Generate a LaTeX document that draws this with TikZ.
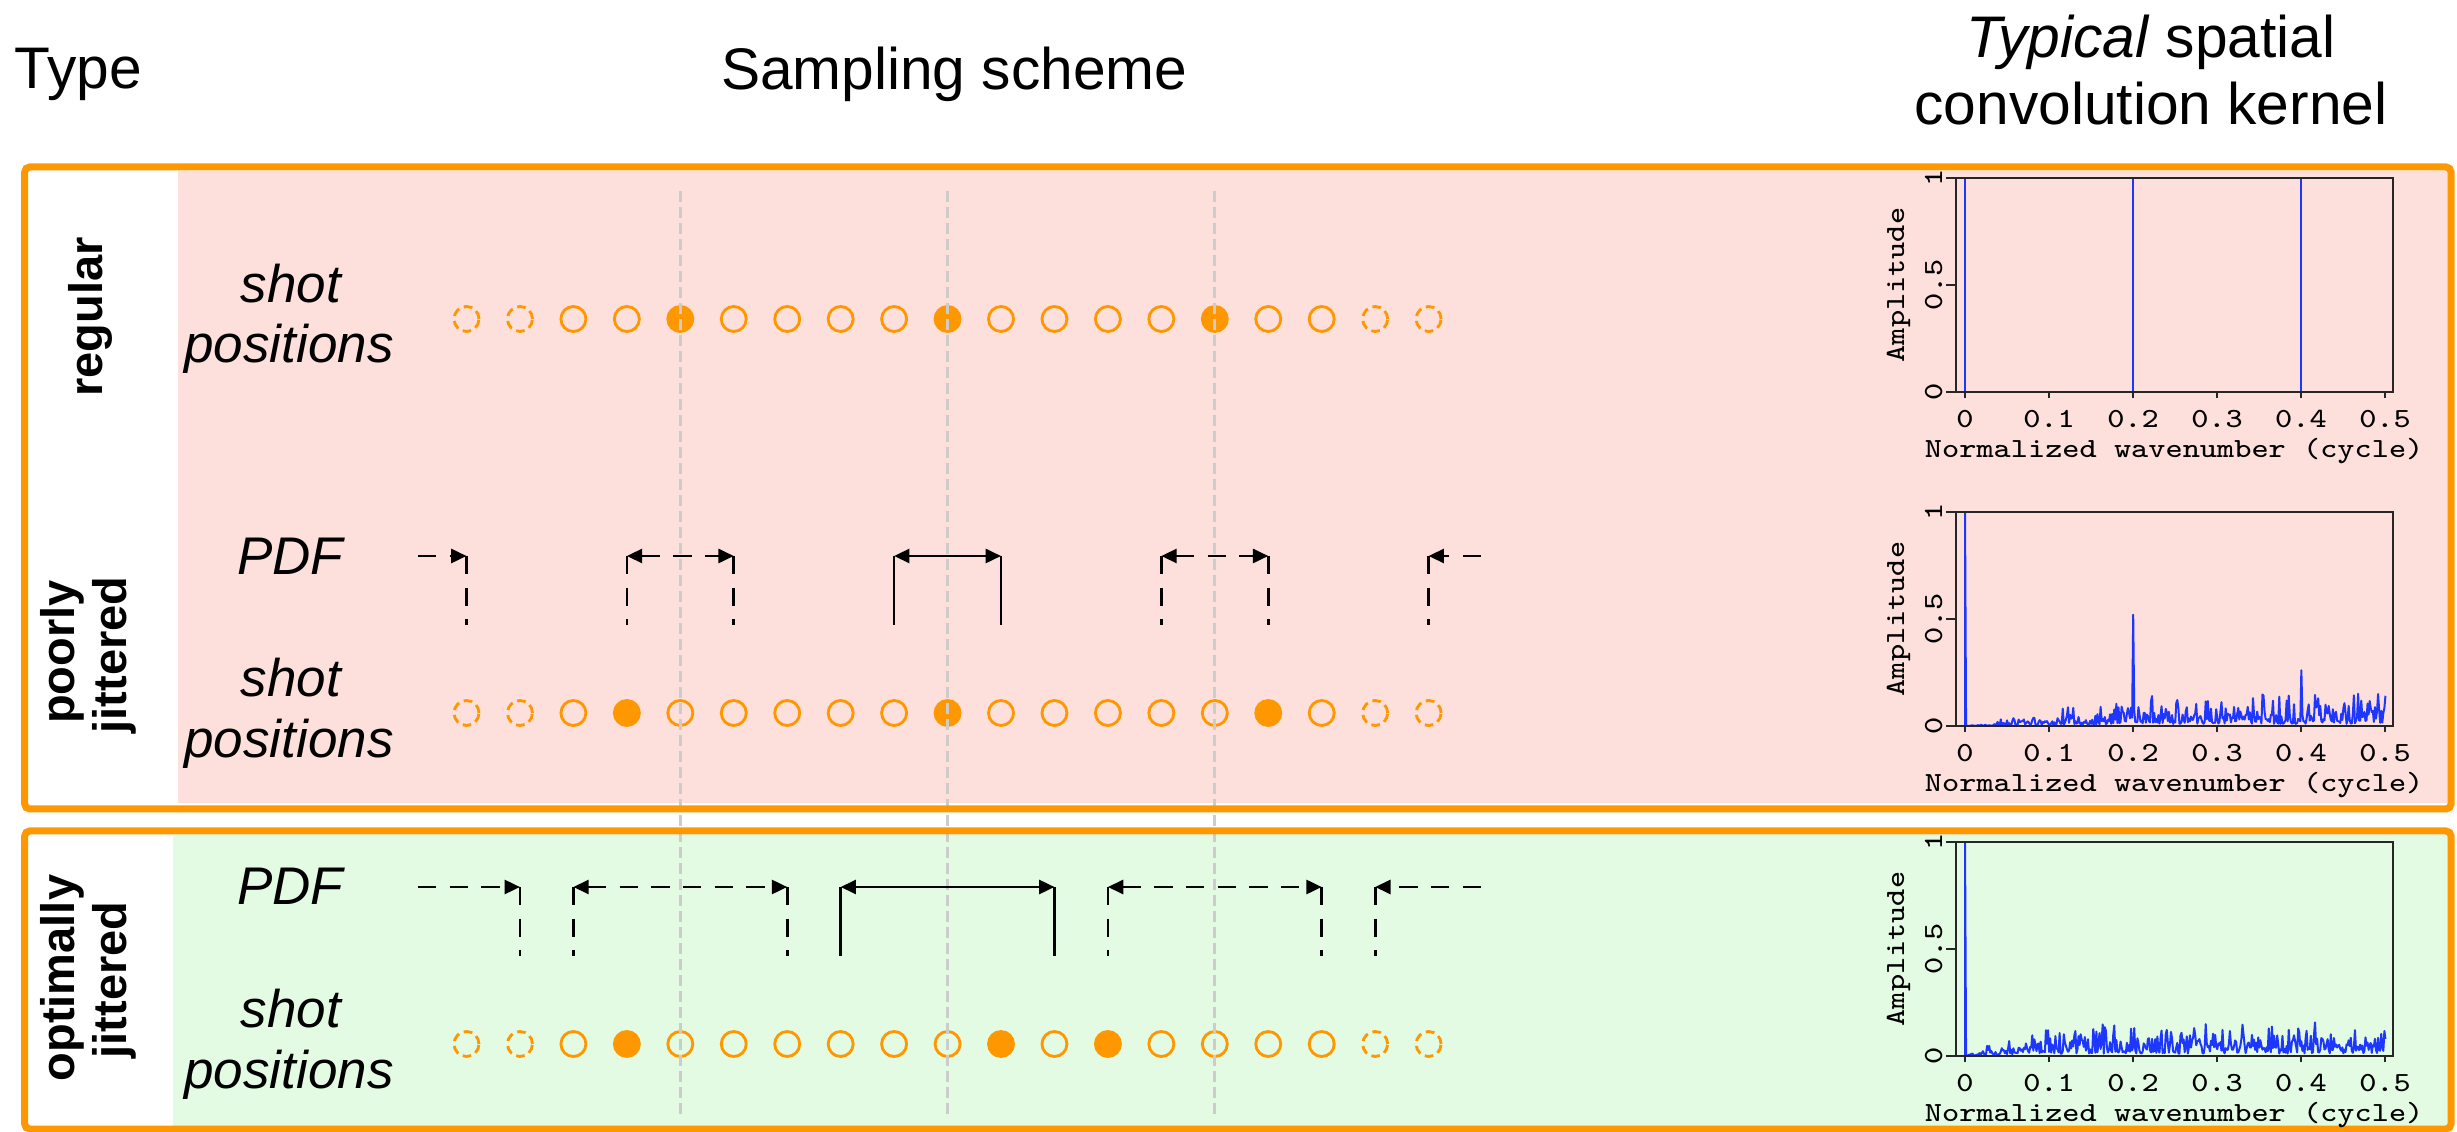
\documentclass[tikz,border=0pt]{standalone}
\usepackage{fontspec}
\setmainfont{Liberation Sans}
\usepackage{graphicx}
\usetikzlibrary{arrows.meta}
\definecolor{orng}{RGB}{255,152,0}
\definecolor{pinkbg}{RGB}{253,223,219}
\definecolor{greenbg}{RGB}{227,250,227}
\definecolor{gridgray}{RGB}{204,204,204}
\definecolor{kblue}{RGB}{30,55,255}
\newcommand\plt[1]{\scalebox{1.17}[1]{#1}}
\newcommand\kernelaxes[1]{%
  \draw[axline] (-0.0107,0) rectangle (0.5095,1);
  \foreach \tv [count=\c] in {0,0.1,0.2,0.3,0.4,0.5}{
    \draw[axline] (\tv,0) -- (\tv,-0.028);
    \node[ticklab,anchor=base] (#1x\c) at (\tv,-0.1636) {\plt{\tv}};
  }
  \foreach \tv [count=\c] in {0,0.5,1}{
    \draw[axline] (-0.0107,\tv) -- (-0.0226,\tv);
    \node[ticklab,rotate=90,anchor=base] (#1y\c) at (-0.0274,\tv) {\plt{\tv}};
  }
  \node[ticklab,rotate=90,anchor=base] (#1yl) at (-0.0726,0.5) {\plt{Amplitude}};
  \node[ticklab,anchor=base] (#1xl) at (0.249,-0.308) {\plt{Normalized wavenumber (cycle)}};
}
\begin{document}
\begin{tikzpicture}[x=0.3pt,y=-0.3pt,
  every node/.style={inner sep=0pt,outer sep=0pt},
  hdr/.style={font=\fontsize{17.6}{21}\selectfont},
  rowlab/.style={font=\fontsize{15.9}{19}\selectfont\itshape,anchor=base},
  typelab/.style={font=\fontsize{14.1}{17}\selectfont\bfseries,rotate=90,anchor=base},
  shotc/.style={circle,draw=orng,line width=0.85pt,minimum size=7.5pt},
  opn/.style={shotc},
  dsh/.style={shotc,dash pattern=on 2.6pt off 1.5pt},
  fil/.style={shotc,fill=orng},
  obox/.style={draw=orng,line width=2.1pt,rounded corners=1.5pt},
  gline/.style={draw=gridgray,line width=0.9pt,dash pattern=on 3.3pt off 1.5pt},
  pdfd/.style={line width=0.8pt,dash pattern=on 5.5pt off 4pt},
  pdfs/.style={line width=0.8pt},
  >={Triangle[length=4.6pt,width=4.2pt]},
  kern/.style={draw=kblue,line width=0.6pt,line join=round},
  axline/.style={draw=black!85,line width=0.55pt},
  ticklab/.style={font=\fontsize{8.3}{10}\selectfont\ttfamily}]
\useasboundingbox (0,0) rectangle (2457,1132);

% backgrounds
\fill[pinkbg] (178,171) rectangle (2449,803);
\fill[greenbg] (173,835) rectangle (2449,1127);

% headers
\node[hdr,anchor=base west] (hType) at (15,89) {Type};
\node[hdr,anchor=base west] (hSamp) at (721,90) {Sampling scheme};
\node[hdr,anchor=base] (hKer1) at (2151,58) {\textit{Typical} spatial};
\node[hdr,anchor=base] (hKer2) at (2151,125) {convolution kernel};

% type labels
\node[typelab] (tReg) at (102,317) {regular};
\node[typelab] (tPoor1) at (74,652) {poorly};
\node[typelab] (tPoor2) at (126,655) {jittered};
\node[typelab] (tOpt1) at (74,978) {optimally};
\node[typelab] (tOpt2) at (126,980) {jittered};

% row labels
\node[rowlab] (lR1) at (291,303) {shot};
\node[rowlab] (lR2) at (289,363) {positions};
\node[rowlab] (lP0) at (290,575) {PDF};
\node[rowlab] (lP1) at (291,697) {shot};
\node[rowlab] (lP2) at (289,758) {positions};
\node[rowlab] (lO0) at (290,905) {PDF};
\node[rowlab] (lO1) at (291,1027) {shot};
\node[rowlab] (lO2) at (289,1088) {positions};

% shot positions: regular
\foreach \i in {0,1,17,18} \node[dsh] (r\i) at ({466.5+53.45*\i},319) {};
\foreach \i in {2,3,5,6,7,8,10,11,12,13,15,16} \node[opn] (r\i) at ({466.5+53.45*\i},319) {};
\foreach \i in {4,9,14} \node[fil] (r\i) at ({466.5+53.45*\i},319) {};
% poorly jittered
\foreach \i in {0,1,17,18} \node[dsh] (p\i) at ({466.5+53.45*\i},713) {};
\foreach \i in {2,4,5,6,7,8,10,11,12,13,14,16} \node[opn] (p\i) at ({466.5+53.45*\i},713) {};
\foreach \i in {3,9,15} \node[fil] (p\i) at ({466.5+53.45*\i},713) {};
% optimally jittered
\foreach \i in {0,1,17,18} \node[dsh] (o\i) at ({466.5+53.45*\i},1044) {};
\foreach \i in {2,4,5,6,7,8,9,11,13,14,15,16} \node[opn] (o\i) at ({466.5+53.45*\i},1044) {};
\foreach \i in {3,10,12} \node[fil] (o\i) at ({466.5+53.45*\i},1044) {};

% gray guide lines
\coordinate (gt) at (0,191);
\coordinate (gb) at (0,1116);
\foreach \i in {4,9,14} \draw[gline] (r\i |- gt) -- (r\i |- gb);

% boxes
\draw[obox] (24.7,167) rectangle (2451,809);
\draw[obox] (24.7,831) rectangle (2451,1129);

% PDF brackets: poorly
\foreach \i in {0,3,5,8,10,13,15,18}{
  \coordinate (pt\i) at ({466.5+53.45*\i},556);
  \coordinate (pb\i) at ({466.5+53.45*\i},625);
}
\coordinate (ps) at (418,556);
\coordinate (pe) at (1481,556);
\draw[pdfd,->] (ps) -- (pt0);
\draw[pdfd,<->] (pt3) -- (pt5);
\draw[pdfs,<->] (pt8) -- (pt10);
\draw[pdfd,<->] (pt13) -- (pt15);
\draw[pdfd,->] (pe) -- (pt18);
\foreach \i in {0,3,5,13,15,18} \draw[pdfd] (pt\i) -- (pb\i);
\foreach \i in {8,10} \draw[pdfs] (pt\i) -- (pb\i);

% PDF brackets: optimally
\foreach \i in {1,2,6,7,11,12,16,17}{
  \coordinate (ot\i) at ({466.5+53.45*\i},887);
  \coordinate (ob\i) at ({466.5+53.45*\i},956);
}
\coordinate (os) at (418,887);
\coordinate (oe) at (1481,887);
\draw[pdfd,->] (os) -- (ot1);
\draw[pdfd,<->] (ot2) -- (ot6);
\draw[pdfs,<->] (ot7) -- (ot11);
\draw[pdfd,<->] (ot12) -- (ot16);
\draw[pdfd,->] (oe) -- (ot17);
\foreach \i in {1,2,6,12,16,17} \draw[pdfd] (ot\i) -- (ob\i);
\foreach \i in {7,11} \draw[pdfs] (ot\i) -- (ob\i);

% kernel plot: regular
\begin{scope}[shift={(1965,392)},x=252pt,y=64.2pt]
  \draw[kern] (0,0) -- (0.5,0);
  \draw[kern] (0,0) -- (0,1);
  \draw[kern] (0.2,0) -- (0.2,1);
  \draw[kern] (0.4,0) -- (0.4,1);
  \kernelaxes{ka}
\end{scope}

% kernel plot: poorly jittered
\begin{scope}[shift={(1965,726)},x=252pt,y=64.2pt]
  \pgfmathsetseed{11}
  \draw[kern] (0,0) -- (0,1) -- (0.00125,0)
    \foreach \k in {2,...,400}{ -- ({\k*0.00125},{ifthenelse(\k==160,0.52,ifthenelse(\k==320,0.26,0.064*min(\k/160,1)*(0.15+2.3*rnd*rnd)))}) };
  \kernelaxes{kb}
\end{scope}

% kernel plot: optimally jittered
\begin{scope}[shift={(1965,1056)},x=252pt,y=64.2pt]
  \pgfmathsetseed{23}
  \draw[kern] (0,0) -- (0,1) -- (0.00125,0)
    \foreach \k in {2,...,400}{ -- ({\k*0.00125},{0.072*min(\k/64,1)*(0.15+2.3*rnd*rnd)}) };
  \kernelaxes{kc}
\end{scope}
\end{tikzpicture}
\end{document}
